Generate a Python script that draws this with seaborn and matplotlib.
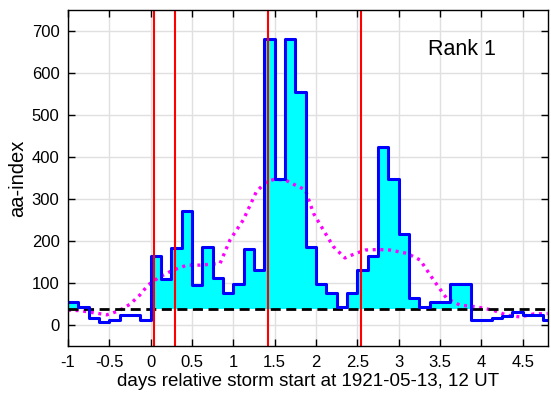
import numpy as np
import pandas as pd
import matplotlib
matplotlib.use("Agg")
import matplotlib.pyplot as plt
import seaborn as sns

# ---- data ----
# 3-hourly aa-index, bins start at -1 day, width 0.125 day
bin_start = -1.0
bin_width = 0.125
aa_values = [56, 43, 18, 8, 13, 24, 24, 12,
             164, 109, 183, 271, 96, 185, 112, 77,
             98, 182, 131, 680, 347, 680, 553, 185,
             98, 77, 43, 77, 131, 164, 423, 347,
             218, 65, 43, 55, 55, 98, 98, 12,
             12, 18, 22, 31, 24, 24, 12]

# smoothed curve (magenta dotted)
smooth_t = [-1, -0.85, -0.69, -0.53, -0.39, -0.25, -0.13, -0.03, 0.11, 0.27,
            0.44, 0.6, 0.84, 0.96, 1.12, 1.28, 1.40, 1.50, 1.63, 1.75,
            1.87, 1.97, 2.09, 2.21, 2.35, 2.47, 2.6, 2.75, 2.89, 3.10,
            3.26, 3.42, 3.58, 3.74, 3.94, 4.14, 4.31, 4.47, 4.63, 4.8]
smooth_v = [36, 35, 30, 25, 34, 50, 72, 96, 115, 131,
            143, 143, 147, 203, 250, 318, 341, 347, 345, 333,
            322, 266, 226, 187, 160, 170, 179, 180, 179, 171,
            155, 108, 64, 48, 44, 36, 24, 20, 27, 28]

baseline = 38
event_lines = [0.04, 0.30, 1.42, 2.55]
xticks = [-1, -0.5, 0, 0.5, 1, 1.5, 2, 2.5, 3, 3.5, 4, 4.5]
xtick_labels = ["-1", "-0.5", "0", "0.5", "1", "1.5", "2", "2.5", "3", "3.5", "4", "4.5"]
yticks = [0, 100, 200, 300, 400, 500, 600, 700]
xlabel = "days relative storm start at 1921-05-13, 12 UT"
ylabel = "aa-index"
rank_text = "Rank 1"

# ---- build frames ----
n = len(aa_values)
edges = bin_start + bin_width * np.arange(n + 1)
step_y = np.array(aa_values + [aa_values[-1]], dtype=float)
df_step = pd.DataFrame({"t": edges, "aa": step_y})
df_smooth = pd.DataFrame({"t": smooth_t, "aa": smooth_v})

sns.set_theme(style="whitegrid")
plt.rcParams["font.family"] = ["Liberation Sans", "DejaVu Sans"]
plt.rcParams["axes.unicode_minus"] = False

fig = plt.figure(figsize=(5.51, 3.94), dpi=100)
ax = fig.add_axes([0.1232, 0.1208, 0.8706, 0.8550])

ax.set_facecolor("white")
ax.grid(True, color="#e0e0e0", linewidth=1.0, zorder=0)
ax.set_axisbelow(True)

# cyan fill above baseline
ax.fill_between(df_step["t"], np.maximum(df_step["aa"], baseline), baseline,
                step="post", color="#00ffff", linewidth=0, zorder=1)

sns.lineplot(data=df_smooth, x="t", y="aa", ax=ax, color="#ff00ff",
             linewidth=2.4, linestyle=(0, (0.9, 1.4)), zorder=2,
             dash_capstyle="butt")
ax.axhline(baseline, color="black", linewidth=2.0, dashes=(3.6, 2.0), zorder=3)
sns.lineplot(data=df_step, x="t", y="aa", ax=ax, color="#0000ff",
             linewidth=2.2, drawstyle="steps-post", zorder=4)
for xv in event_lines:
    ax.axvline(xv, color="#ff0000", linewidth=1.5, zorder=5)

ax.set_xlim(-1, 4.8)
ax.set_ylim(-50, 750)
ax.set_xticks(xticks)
ax.set_xticklabels(xtick_labels)
ax.set_yticks(yticks)
ax.tick_params(axis="both", which="both", direction="in", length=5,
               width=1, color="black", labelsize=12, pad=6,
               top=True, right=True, bottom=True, left=True,
               labelcolor="black")
for sp in ax.spines.values():
    sp.set_visible(True)
    sp.set_color("black")
    sp.set_linewidth(1.0)
    sp.set_zorder(6)

ax.set_xlabel(xlabel, fontsize=13.5, color="black", labelpad=2)
ax.set_ylabel(ylabel, fontsize=14.5, color="black", labelpad=3)
ax.text(3.77, 654, rank_text, fontsize=15.5, ha="center", va="center", color="black")

fig.savefig("out.png", dpi=100)
